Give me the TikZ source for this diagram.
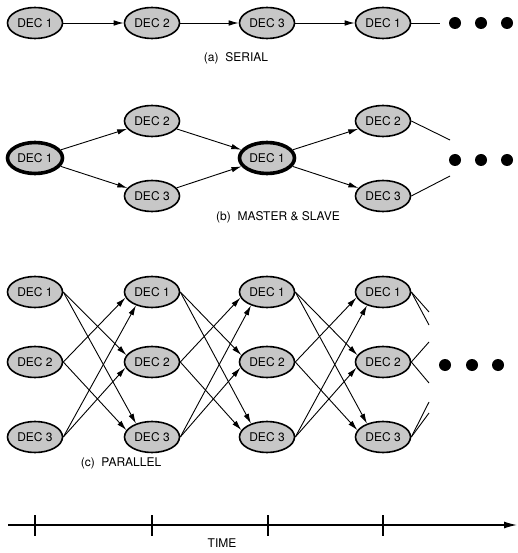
\documentclass[tikz,border=0pt]{standalone}
\usepackage{fontspec}
\setmainfont{TeX Gyre Heros}
\usetikzlibrary{shapes.geometric,arrows.meta}
\begin{document}
\begin{tikzpicture}[x=1pt,y=-1pt,
  dec/.style={ellipse,draw=black,line width=1.6pt,fill=black!22,
    minimum width=55pt,minimum height=31pt,inner sep=0pt,
    font=\fontsize{12}{14}\selectfont},
  master/.style={dec,line width=3.6pt},
  flow/.style={line width=0.9pt,-{Latex[length=10pt,width=5.5pt]}},
  trail/.style={line width=0.9pt},
  more/.style={circle,fill=black,minimum size=12pt,inner sep=0pt},
  caption/.style={font=\fontsize{12}{14}\selectfont},
  axis/.style={line width=1.3pt,-{Latex[length=13pt,width=7pt]}},
  tick/.style={line width=1.3pt}]
\useasboundingbox (0,0) rectangle (517,553);

% (a) serial chain
\node[dec] (s1) at (35,23) {DEC 1};
\node[dec] (s2) at (152,23) {DEC 2};
\node[dec] (s3) at (267,23) {DEC 3};
\node[dec] (s4) at (383,23) {DEC 1};
\coordinate (s5) at (440,23);
\draw[flow] (s1) -- (s2);
\draw[flow] (s2) -- (s3);
\draw[flow] (s3) -- (s4);
\draw[trail] (s4) -- (s5);
\node[more] (sd1) at (455,23) {};
\node[more] (sd2) at (481,23) {};
\node[more] (sd3) at (507,23) {};
\node[caption] (capa) at (236,58) {(a)\ \ SERIAL};

% (b) master and slaves
\node[master] (m1) at (35,158) {DEC 1};
\node[dec] (m2) at (152,121) {DEC 2};
\node[dec] (m3) at (152,196) {DEC 3};
\node[master] (m4) at (267,158) {DEC 1};
\node[dec] (m5) at (383,121) {DEC 2};
\node[dec] (m6) at (383,196) {DEC 3};
\coordinate (m7) at (450,140);
\coordinate (m8) at (450,176);
\draw[flow] (m1) -- (m2);
\draw[flow] (m1) -- (m3);
\draw[flow] (m2) -- (m4);
\draw[flow] (m3) -- (m4);
\draw[flow] (m4) -- (m5);
\draw[flow] (m4) -- (m6);
\draw[trail] (m5.east) -- (m7);
\draw[trail] (m6.east) -- (m8);
\node[more] (md1) at (455,160) {};
\node[more] (md2) at (481,160) {};
\node[more] (md3) at (507,160) {};
\node[caption] (capb) at (278,217) {(b)\ \ MASTER \& SLAVE};

% (c) parallel lattice
\foreach \c/\x in {0/35,1/152,2/267,3/383}{
  \foreach \r/\y in {1/292,2/362,3/437}{
    \node[dec] (p\c\r) at (\x,\y) {DEC \r};
  }
}
\foreach \c/\n in {0/1,1/2,2/3}{
  \draw[flow] (p\c1.east) -- (p\n2.165);
  \draw[flow] (p\c1.east) -- (p\n3.140);
  \draw[flow] (p\c2.east) -- (p\n1.192);
  \draw[flow] (p\c2.east) -- (p\n3.165);
  \draw[flow] (p\c3.east) -- (p\n1.220);
  \draw[flow] (p\c3.east) -- (p\n2.192);
}
\coordinate (q12) at (429,312);
\coordinate (q13) at (429,325);
\coordinate (q21) at (429,342);
\coordinate (q23) at (429,383);
\coordinate (q31) at (429,402);
\coordinate (q32) at (429,413);
\draw[trail] (p31.east) -- (q12);
\draw[trail] (p31.east) -- (q13);
\draw[trail] (p32.east) -- (q21);
\draw[trail] (p32.east) -- (q23);
\draw[trail] (p33.east) -- (q31);
\draw[trail] (p33.east) -- (q32);
\node[more] (pd1) at (445,365) {};
\node[more] (pd2) at (472,365) {};
\node[more] (pd3) at (498,365) {};
\node[caption] (capc) at (121,463) {(c)\ \ PARALLEL};

% time axis
\coordinate (t0) at (8,525);
\coordinate (t1) at (517,525);
\draw[axis] (t0) -- (t1);
\foreach \x in {35,152,268,383}{
  \draw[tick] (\x,515) -- (\x,536);
}
\node[caption] (time) at (222,543) {TIME};
\end{tikzpicture}
\end{document}
